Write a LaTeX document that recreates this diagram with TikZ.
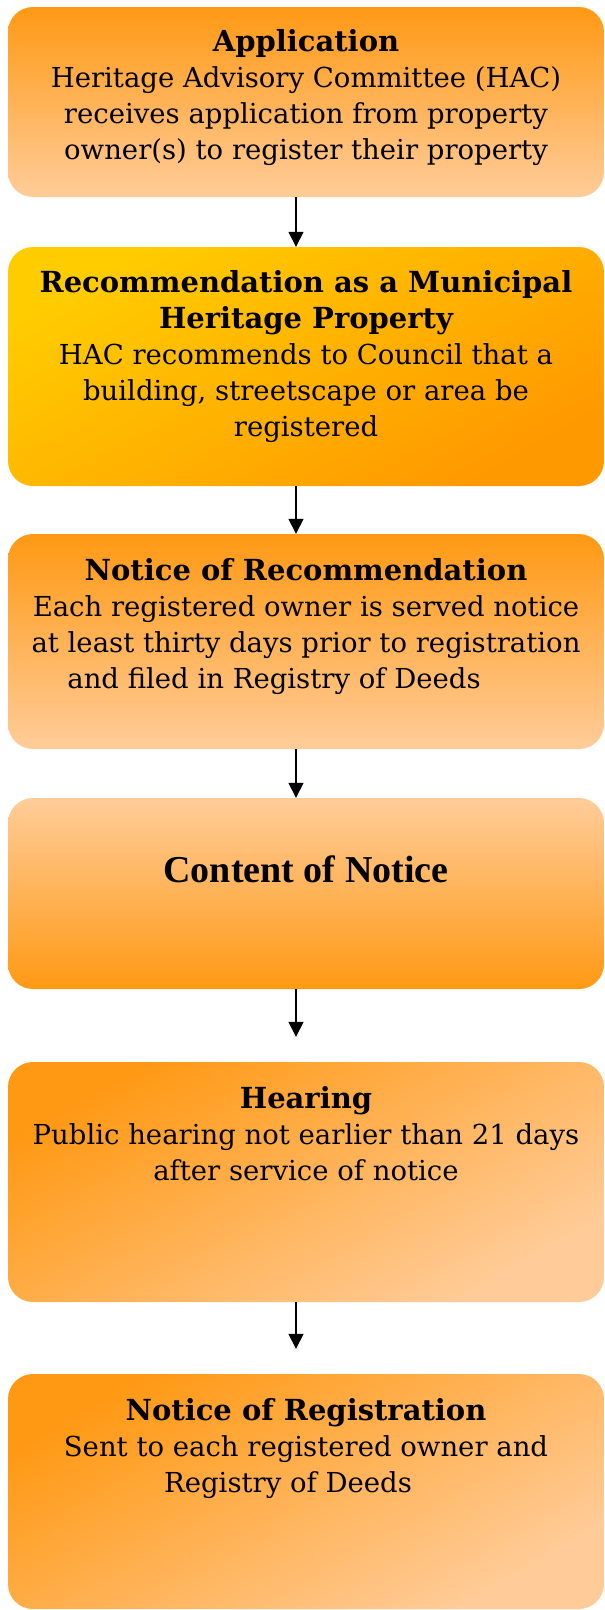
\documentclass[tikz,border=0pt]{standalone}
\usepackage{fontspec}
\setmainfont{DejaVu Serif}
\newfontfamily\timesfont{Liberation Serif}
\usetikzlibrary{arrows.meta}
\definecolor{dorange}{HTML}{FF9914}
\definecolor{peach}{HTML}{FFCC99}
\definecolor{gold}{HTML}{FFCC00}
\definecolor{orng}{HTML}{FF9900}
\newcommand{\ttl}[1]{{\fontsize{29}{36}\selectfont\bfseries #1}}
\begin{document}
\begin{tikzpicture}[x=1pt,y=1pt,
  box/.style={rectangle, rounded corners=25pt, minimum width=596pt, inner sep=0pt},
  gdown/.style={top color=dorange, bottom color=peach},
  gup/.style={top color=peach, bottom color=dorange},
  gdiag/.style={top color=dorange, bottom color=peach, shading angle=30},
  gdiaggold/.style={top color=gold, bottom color=orng, shading angle=30},
  txt/.style={align=center, inner sep=0pt, anchor=base, font=\fontsize{27.5}{36}\selectfont},
  arr/.style={-{Triangle[width=15pt,length=15pt]}, line width=1.4pt}]
\useasboundingbox (0,0) rectangle (605,-1610);
\node[box, gdown, minimum height=190pt] (b1) at (306,-102) {};
\node[box, gdiaggold, minimum height=239pt] (b2) at (306,-366.5) {};
\node[box, gdown, minimum height=215pt] (b3) at (306,-641.5) {};
\node[box, gup, minimum height=191pt] (b4) at (306,-893.5) {};
\node[box, gdiag, minimum height=240pt] (b5) at (306,-1182) {};
\node[box, gdiag, minimum height=235pt] (b6) at (306,-1491.5) {};
\node[txt] (t1) at (306,-159) {\ttl{Application}\\Heritage Advisory Committee (HAC)\\receives application from property\\owner(s) to register their property};
\node[txt] (t2) at (306,-436) {\ttl{Recommendation as a Municipal}\\\ttl{Heritage Property}\\HAC recommends to Council that a\\building, streetscape or area be\\registered};
\node[txt] (t3) at (306,-688) {\ttl{Notice of Recommendation}\\Each registered owner is served notice\\at least thirty days prior to registration\\and filed in Registry of Deeds\hspace*{64pt}};
\node[anchor=center, inner sep=0pt, font=\timesfont\bfseries\fontsize{38}{42}\selectfont] (t4) at (306,-869) {Content of Notice};
\node[txt] (t5) at (306,-1180) {\ttl{Hearing}\\Public hearing not earlier than 21 days\\after service of notice};
\node[txt] (t6) at (306,-1492) {\ttl{Notice of Registration}\\Sent to each registered owner and\\Registry of Deeds\hspace*{36pt}};
\draw[arr] ([xshift=-10pt]b1.south) -- ([xshift=-10pt]b2.north);
\draw[arr] ([xshift=-10pt]b2.south) -- ([xshift=-10pt]b3.north);
\draw[arr] ([xshift=-10pt]b3.south) -- ([xshift=-10pt]b4.north);
\draw[arr] ([xshift=-10pt]b4.south) -- ([xshift=-10pt,yshift=25pt]b5.north);
\draw[arr] ([xshift=-10pt]b5.south) -- ([xshift=-10pt,yshift=25pt]b6.north);
\end{tikzpicture}
\end{document}
